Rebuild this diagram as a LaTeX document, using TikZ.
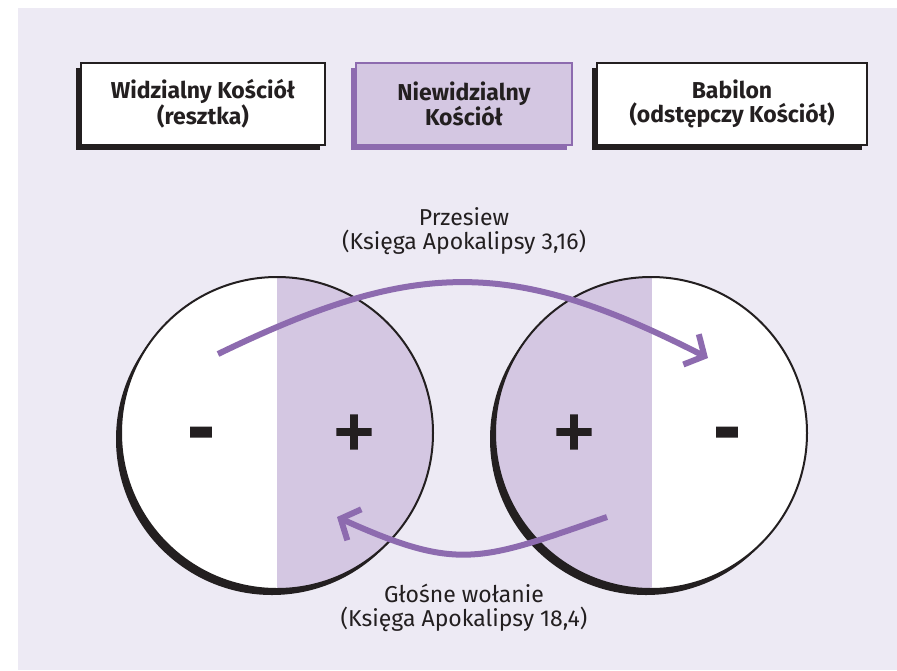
\documentclass[tikz,border=0pt]{standalone}
\usepackage{fontspec}
\setmainfont{Fira Sans}
\newfontfamily\signfont[FakeBold=3]{DejaVu Sans Bold}
\usetikzlibrary{arrows.meta,shadows}
\definecolor{bg}{HTML}{EDEAF4}
\definecolor{lav}{HTML}{D4C7E2}
\definecolor{pur}{HTML}{8D6BAF}
\definecolor{ink}{HTML}{231F20}
\tikzset{
  box/.style={draw=ink, fill=white, line width=2pt, minimum height=82pt, inner sep=0pt,
    align=center, text=ink, font=\bfseries\fontsize{23}{24}\selectfont,
    general shadow={shadow xshift=-5pt, shadow yshift=-5pt, fill=ink}},
  pbox/.style={box, draw=pur, fill=lav, general shadow={shadow xshift=-5pt, shadow yshift=-5pt, fill=pur}},
  lbl/.style={align=center, text=ink, font=\fontsize{23}{24.5}\selectfont, inner sep=0pt},
  sign/.style={text=ink, font=\signfont\fontsize{54}{54}\selectfont, inner sep=0pt},
  msign/.style={sign, font=\signfont\fontsize{64}{64}\selectfont},
  flow/.style={draw=pur, line width=6pt, -{Straight Barb[sharp, length=15pt, width=34pt]}},
}
\begin{document}
\begin{tikzpicture}[x=1pt,y=-1pt]
\useasboundingbox (0,0) rectangle (897,670);
\fill[bg] (18,8) rectangle (897,670);
% boxes
\node[box, minimum width=244pt] (b1) at (203,104) {Widzialny Kościół\\(resztka)};
\node[pbox, minimum width=216pt] (b2) at (464,104) {Niewidzialny\\Kościół};
\node[box, minimum width=270pt] (b3) at (732,104) {Babilon\\(odstępczy Kościół)};
% left circle
\fill[ink] (272,439) circle[radius=156pt];
\fill[white] (277,433) circle[radius=156pt];
\begin{scope}
  \clip (277,433) circle[radius=156pt];
  \fill[lav] (277,270) rectangle (440,600);
\end{scope}
\draw[ink, line width=2pt] (277,433) circle[radius=156pt];
% right circle
\fill[ink] (646,439) circle[radius=156pt];
\fill[white] (651,433) circle[radius=156pt];
\begin{scope}
  \clip (651,433) circle[radius=156pt];
  \fill[lav] (490,270) rectangle (652,600);
\end{scope}
\draw[ink, line width=2pt] (651,433) circle[radius=156pt];
% signs
\node[msign] (m1) at (201,439) {-};
\node[sign] (p1) at (354,432) {+};
\node[sign] (p2) at (574,432) {+};
\node[msign] (m2) at (727,439) {-};
% arrows
\coordinate (a1s) at (218,354);
\coordinate (a1e) at (708,358);
\coordinate (a2s) at (607,517);
\coordinate (a2e) at (337,517);
\draw[flow] (a1s) .. controls (416,258) and (512,258) .. (a1e);
\draw[flow] (a2s) .. controls (480,561) and (459,572) .. (a2e);
% labels
\node[lbl] (t1) at (464,231) {Przesiew\\(Księga Apokalipsy 3,16)};
\node[lbl] (t2) at (464,608) {Głośne wołanie\\(Księga Apokalipsy 18,4)};
\end{tikzpicture}
\end{document}
